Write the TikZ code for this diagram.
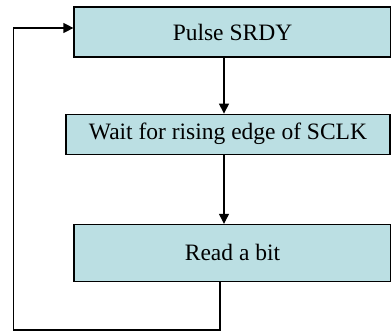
\documentclass[tikz,border=0pt]{standalone}
\usepackage{fontspec}
\setmainfont{Liberation Serif}
\usetikzlibrary{shapes,arrows.meta,positioning}
\definecolor{boxfill}{HTML}{BBDFE3}

\begin{document}
\begin{tikzpicture}[node distance=56pt, >={Triangle[length=10pt,width=10pt]},
    block/.style={rectangle, draw, fill=boxfill, line width=1.2pt, inner sep=0pt,
        font=\fontsize{23.5}{28}\selectfont}]
    \useasboundingbox (0,0) rectangle (391pt,-331pt);
    % Main nodes
    \node (pulse) [block, minimum width=317pt, minimum height=50pt] at (232.5pt,-32pt) {Pulse SRDY};
    \node (wait) [block, minimum width=324pt, minimum height=40pt, below=of pulse, xshift=-4.5pt] {Wait for rising edge of SCLK};
    \node (read) [block, minimum width=317pt, minimum height=57pt, below=69pt of wait, xshift=4.5pt] {Read a bit};

    % Connections
    \draw[->, line width=1.2pt] ([xshift=-8.5pt]pulse.south) -- ([xshift=-8.5pt]pulse.south |- wait.north);
    \draw[->, line width=1.2pt] ([xshift=-4pt]wait.south) -- ([xshift=-4pt]wait.south |- read.north);

    % Loop back
    \coordinate (back) at ([xshift=-60pt,yshift=4pt]pulse.west);
    \draw[->, line width=1.2pt] ([xshift=-12.5pt]read.south) -- ++(0,-48pt) -| (back) -- ([yshift=4pt]pulse.west);
\end{tikzpicture}
\end{document}
